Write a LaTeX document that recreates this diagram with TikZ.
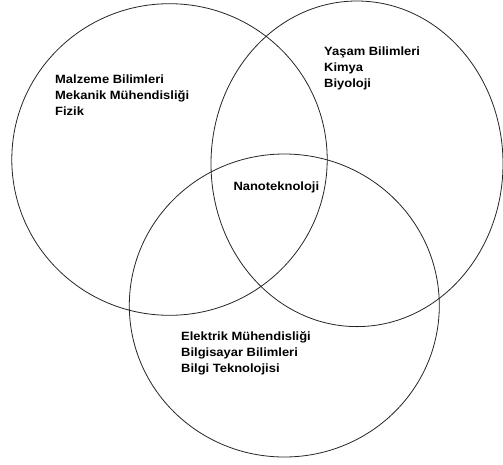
\documentclass[tikz,border=0pt]{standalone}
\usepackage{fontspec}
\setmainfont{Liberation Sans}[FakeStretch=1.08]
\begin{document}
\begin{tikzpicture}[x=1pt,y=-1pt,
  ring/.style={draw=black!85,line width=0.8pt},
  lbl/.style={anchor=base west,inner sep=0pt,font=\fontsize{12}{16}\selectfont\bfseries}]
\useasboundingbox (0,0) rectangle (503,464);
\fill[white] (0,0) rectangle (503,464);
\draw[ring] (169.5,159.5) ellipse [x radius=157.7, y radius=155.8];
\draw[ring] (357,163.8) ellipse [x radius=146, y radius=162.8];
\draw[ring] (284.3,305.5) ellipse [x radius=155, y radius=151.5];
\node[lbl] (l1) at (55,83.3) {Malzeme Bilimleri};
\node[lbl] (l2) at (55,99.2) {Mekanik Mühendisliği};
\node[lbl] (l3) at (55,115) {Fizik};
\node[lbl] (r1) at (324,55) {Yaşam Bilimleri};
\node[lbl] (r2) at (324,71) {Kimya};
\node[lbl] (r3) at (324,87) {Biyoloji};
\node[lbl] (c1) at (233.3,190.7) {Nanoteknoloji};
\node[lbl] (b1) at (181,340.7) {Elektrik Mühendisliği};
\node[lbl] (b2) at (181,356.6) {Bilgisayar Bilimleri};
\node[lbl] (b3) at (181,372.5) {Bilgi Teknolojisi};
\end{tikzpicture}
\end{document}
